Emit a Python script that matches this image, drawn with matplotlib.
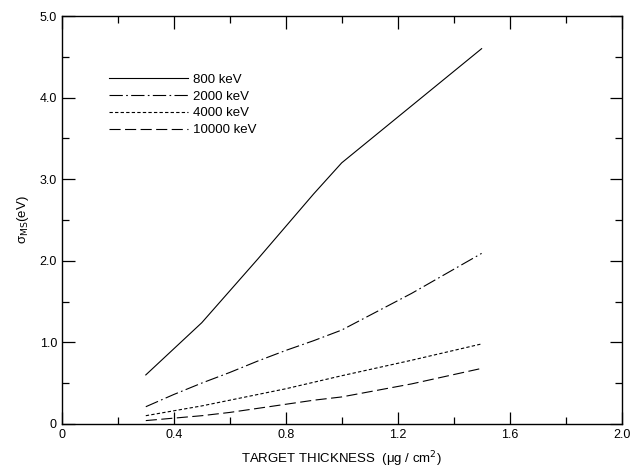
import numpy as np
import matplotlib.pyplot as plt
from matplotlib.ticker import MultipleLocator, FixedLocator

plt.rcParams['font.family'] = ['Liberation Sans', 'DejaVu Sans']

# thickness (ug/cm^2)
thick = [0.3, 0.4, 0.5, 0.6, 0.7, 0.8, 0.9, 1.0, 1.25, 1.5]
# sigma_MS (eV) per beam energy
s800 = [0.60, 0.92, 1.24, 1.63, 2.02, 2.42, 2.82, 3.20, 3.90, 4.60]
s2000 = [0.21, 0.36, 0.50, 0.63, 0.77, 0.90, 1.02, 1.15, 1.60, 2.09]
s4000 = [0.10, 0.16, 0.22, 0.29, 0.36, 0.43, 0.51, 0.59, 0.78, 0.98]
s10000 = [0.04, 0.07, 0.10, 0.14, 0.19, 0.24, 0.29, 0.33, 0.49, 0.68]

labels = ['800 keV', '2000 keV', '4000 keV', '10000 keV']
styles = ['-', (0, (12, 3, 1.5, 3)), (0, (3, 2)), (0, (10, 4))]

fig = plt.figure(figsize=(6.31, 4.72), dpi=100)
ax = fig.add_axes([0.098, 0.102, 0.887, 0.864])

for ys, lab, ls in zip([s800, s2000, s4000, s10000], labels, styles):
    ax.plot(thick, ys, color='black', lw=0.8, linestyle=ls, label=lab)

ax.set_xlim(0, 2.0)
ax.set_ylim(0, 5.0)
ax.xaxis.set_major_locator(FixedLocator([0, 0.4, 0.8, 1.2, 1.6, 2.0]))
ax.set_xticklabels(['0', '0.4', '0.8', '1.2', '1.6', '2.0'])
ax.xaxis.set_minor_locator(MultipleLocator(0.2))
ax.yaxis.set_major_locator(FixedLocator([0, 1, 2, 3, 4, 5]))
ax.set_yticklabels(['0', '1.0', '2.0', '3.0', '4.0', '5.0'])
ax.yaxis.set_minor_locator(MultipleLocator(0.5))
ax.tick_params(which='both', direction='in', top=True, right=True, labelsize=9, width=0.9)
ax.tick_params(which='major', length=9)
ax.tick_params(which='minor', length=5)
for sp in ax.spines.values():
    sp.set_linewidth(1.0)

ax.set_xlabel('TARGET THICKNESS  (\u03bcg / cm$^2$)', fontsize=9.5, labelpad=6)
ax.set_ylabel('\u03c3$_{\\rm MS}$(eV)', fontsize=9.5, labelpad=6)

leg = ax.legend(loc='upper left', bbox_to_anchor=(0.075, 0.872), frameon=False,
                fontsize=9.5, handlelength=6.0, handletextpad=0.35, labelspacing=0.35,
                borderaxespad=0)

fig.savefig('out.png', dpi=100)
